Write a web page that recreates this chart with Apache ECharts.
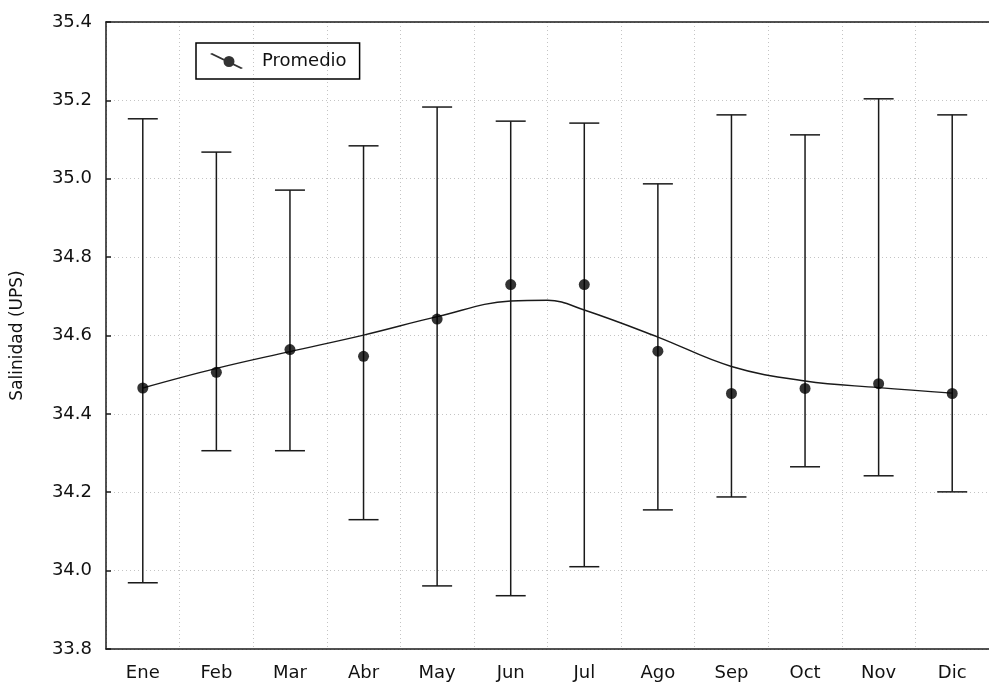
<!DOCTYPE html>
<html>
<head>
<meta charset="utf-8">
<script src="https://cdn.jsdelivr.net/npm/echarts@6/dist/echarts.min.js"></script>
<style>
html,body{margin:0;padding:0;background:#fff;}
#chart{width:989px;height:686px;}
</style>
</head>
<body>
<div id="chart"></div>
<script>
const categories = ['Ene','Feb','Mar','Abr','May','Jun','Jul','Ago','Sep','Oct','Nov','Dic'];
const meanValues = [34.466, 34.506, 34.564, 34.547, 34.642, 34.730, 34.730, 34.560, 34.452, 34.465, 34.477, 34.452];
const upperValues = [35.153, 35.068, 34.971, 35.084, 35.183, 35.147, 35.142, 34.987, 35.163, 35.112, 35.204, 35.163];
const lowerValues = [33.969, 34.306, 34.306, 34.130, 33.961, 33.936, 34.010, 34.155, 34.188, 34.265, 34.242, 34.201];
const curvePositions = [0, 1, 2, 3, 4, 5, 5.5, 6, 7, 8, 9, 10, 11];
const curveValues = [34.466, 34.516, 34.559, 34.601, 34.648, 34.688, 34.690, 34.665, 34.596, 34.521, 34.484, 34.467, 34.453];
const yMin = 33.8, yMax = 35.4, yStep = 0.2;

const FONT = 'DejaVu Sans';
const TXT = '#111';
const LINE = '#1a1a1a';
const GRIDC = '#c4c4c4';

const chart = echarts.init(document.getElementById('chart'), null, {renderer: 'canvas'});

const errorData = categories.map((c, i) => [i, lowerValues[i], upperValues[i]]);
const curveData = curvePositions.map((p, i) => [p, curveValues[i]]);

const legendIcon = 'path://M0,1 L2,0 L33,15 L31,16 Z M24.5,8.5 A5.5,5.5 0 1 1 13.5,8.5 A5.5,5.5 0 1 1 24.5,8.5 Z';

chart.setOption({
  animation: false,
  backgroundColor: '#fff',
  grid: {left: 106, top: 22, right: -9, bottom: 37, containLabel: false},
  legend: {
    left: 196, top: 43,
    padding: [9, 13, 9, 14],
    itemWidth: 33, itemHeight: 16,
    borderColor: '#000', borderWidth: 1.5,
    data: [{name: 'Promedio', icon: legendIcon}],
    textStyle: {fontFamily: FONT, fontSize: 18, color: TXT, padding: [0, 0, 0, 14]}
  },
  xAxis: [
    {
      type: 'category', data: categories, position: 'bottom', boundaryGap: true,
      axisLine: {onZero: false, lineStyle: {color: LINE, width: 1.5}},
      axisTick: {inside: true, length: 4, lineStyle: {color: LINE, width: 1.5}},
      axisLabel: {fontFamily: FONT, fontSize: 18, color: TXT, margin: 15},
      splitLine: {show: true, lineStyle: {type: [1, 3], color: GRIDC, width: 1}}
    },
    {
      type: 'category', data: categories, position: 'top', boundaryGap: true,
      axisLine: {onZero: false, lineStyle: {color: LINE, width: 1.5}},
      axisTick: {inside: true, length: 4, lineStyle: {color: LINE, width: 1.5}},
      axisLabel: {show: false},
      splitLine: {show: false}
    },
    {
      type: 'value', min: -0.5, max: 11.5, show: false
    }
  ],
  yAxis: [{
    type: 'value', min: yMin, max: yMax, interval: yStep, position: 'left',
    name: 'Salinidad (UPS)', nameLocation: 'middle', nameGap: 80,
    nameTextStyle: {fontFamily: FONT, fontSize: 17, color: TXT},
    axisLine: {show: true, onZero: false, lineStyle: {color: LINE, width: 1.5}},
    axisTick: {show: true, inside: true, length: 5, lineStyle: {color: LINE, width: 1.5}},
    axisLabel: {fontFamily: FONT, fontSize: 18, color: TXT, margin: 14, formatter: v => v.toFixed(1)},
    splitLine: {show: true, lineStyle: {type: [1, 3], color: GRIDC, width: 1}}
  }],
  series: [
    {
      type: 'custom', name: 'err', xAxisIndex: 0, yAxisIndex: 0,
      data: errorData,
      renderItem: function (params, api) {
        const x = api.value(0);
        const lo = api.coord([x, api.value(1)]);
        const hi = api.coord([x, api.value(2)]);
        const hw = 15;
        const st = {stroke: LINE, lineWidth: 1.5};
        return {
          type: 'group',
          children: [
            {type: 'line', shape: {x1: lo[0], y1: lo[1], x2: hi[0], y2: hi[1]}, style: st},
            {type: 'line', shape: {x1: lo[0] - hw, y1: lo[1], x2: lo[0] + hw, y2: lo[1]}, style: st},
            {type: 'line', shape: {x1: hi[0] - hw, y1: hi[1], x2: hi[0] + hw, y2: hi[1]}, style: st}
          ]
        };
      },
      z: 2
    },
    {
      type: 'line', name: 'curve', xAxisIndex: 2, yAxisIndex: 0,
      data: curveData, smooth: 0.4, showSymbol: false,
      lineStyle: {color: LINE, width: 1.4}, z: 3
    },
    {
      type: 'scatter', name: 'Promedio', xAxisIndex: 0, yAxisIndex: 0,
      data: meanValues, symbol: 'circle', symbolSize: 11,
      itemStyle: {color: '#000'}, z: 4
    }
  ]
});
</script>
</body>
</html>
